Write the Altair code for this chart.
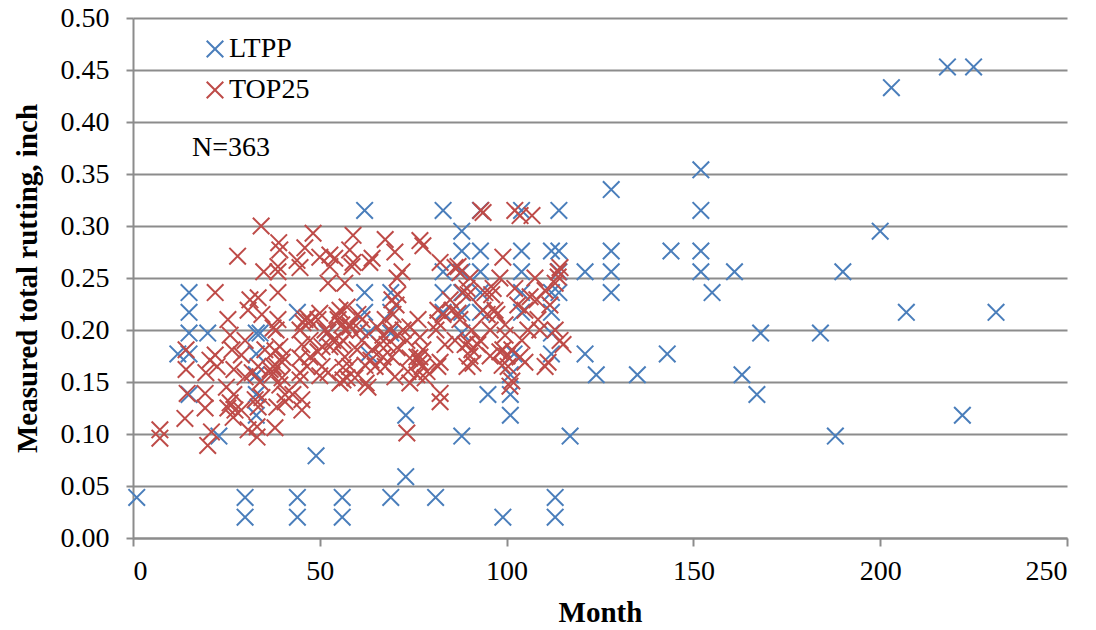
import altair as alt
import pandas as pd

# LTPP sections (month, measured total rutting in inch)
ltpp_month = [1, 12, 15, 15, 15, 15, 15, 20, 23, 30, 30, 33, 34, 33, 33, 33, 33,
              44, 44, 44, 49, 52, 56, 56, 62, 62, 62, 63, 63, 69, 69, 69, 69, 73, 73,
              81, 83, 83, 83, 83, 88, 88, 88, 88, 88, 88, 88, 93, 93, 93, 93, 93, 95,
              99, 101, 101, 101, 102, 104, 104, 104, 104, 104, 112, 112, 112, 112, 112,
              113, 113, 114, 114, 114, 114, 117, 121, 121, 124, 128, 128, 128, 128, 135,
              143, 144, 152, 152, 152, 152, 155, 161, 163, 167, 168, 184, 188, 190, 200,
              203, 207, 218, 222, 225, 231]
ltpp_rut = [0.039, 0.177, 0.177, 0.236, 0.217, 0.197, 0.138, 0.197, 0.098, 0.039, 0.020,
            0.197, 0.197, 0.177, 0.157, 0.138, 0.118,
            0.039, 0.020, 0.217, 0.079, 0.197, 0.039, 0.020, 0.315, 0.236, 0.217, 0.197,
            0.177, 0.236, 0.217, 0.197, 0.039, 0.118, 0.059,
            0.039, 0.315, 0.256, 0.236, 0.217, 0.295, 0.276, 0.256, 0.236, 0.217, 0.197,
            0.098, 0.315, 0.276, 0.256, 0.236, 0.217, 0.138,
            0.020, 0.157, 0.138, 0.118, 0.177, 0.315, 0.276, 0.256, 0.236, 0.217, 0.276,
            0.236, 0.217, 0.197, 0.177,
            0.039, 0.020, 0.315, 0.276, 0.256, 0.236, 0.098, 0.256, 0.177, 0.157, 0.335,
            0.276, 0.256, 0.236, 0.157,
            0.177, 0.276, 0.354, 0.315, 0.276, 0.256, 0.236, 0.256, 0.157, 0.138, 0.197,
            0.197, 0.098, 0.256, 0.295,
            0.433, 0.217, 0.453, 0.118, 0.453, 0.217]

# TOP25 sections (month, measured total rutting in inch)
top25_month = [7.2, 7.2, 13.9, 14.5, 14.2, 14.2, 20, 21, 19.3, 19.3, 19.5, 20.6, 22, 22,
               28, 25.4, 26, 26.5, 27, 25, 26, 26.8, 25.4, 27, 31.3, 30.8, 30, 29, 30, 29,
               30.8, 34.3, 35, 33.5, 34.5, 35.3, 33.5, 34, 34.5, 33.2, 33.2, 39.3, 39, 38.8,
               38.8, 38.3, 38, 39.9, 36.7, 39.9, 39.3, 40.7, 38, 43.9, 48.2, 46, 44.7, 46,
               44.7, 45.2, 47.4, 44.7, 44.7, 42.8, 47.4, 49.5, 51.4, 50, 49.5, 50.6, 50, 50,
               52.7, 52.7, 52.2, 54, 56.7, 55.4, 54.9, 56.7, 56.2, 55.4, 56.2, 57.3, 55.4, 58,
               58.9, 58.9, 58.6, 60.2, 61.3, 60.8, 61.3, 60, 62.1, 59.4, 62.4, 64, 63.4, 64,
               63.7, 64.8, 62.9, 67.5, 70.1, 70.7, 69.3, 70.4, 69.6, 68.8, 70.9, 68, 69.3,
               67.5, 70.1, 66.9, 67.5, 72, 72.3, 73.3, 74.1, 73.6, 74.1, 73.3, 76.8, 77.6,
               76.8, 77.4, 76.3, 77.6, 78.2, 82.2, 81.6, 83, 82.2, 81.6, 82.2, 82.2, 83.5,
               81.1, 86.2, 87.5, 85.4, 87.5, 86.2, 88.9, 90.2, 88.3, 90.2, 90.7, 89.4, 90.7,
               89.4, 84.9, 93.1, 93.7, 94.2, 93.7, 94.8, 92.9, 92.3, 95.6, 95.6, 96.9, 97.4,
               96.4, 98.2, 99, 99.6, 99, 100.1, 100.4, 101.4, 100.9, 101.4, 102.2, 103.6,
               102.2, 103, 104.1, 104.9, 104.9, 106.8, 107.6, 108.1, 108.4, 108.9, 110.3,
               111.6, 113, 114.3, 115.1, 113.8, 114.3, 113, 111.1, 110.3,
               27.3, 33.5, 32.7, 38.5, 31.9, 37.2, 22.5, 38.5, 58, 56.2, 76, 40.7, 45.2,
               45.2, 78.7, 91, 98.8, 87, 113.8, 89.7, 96, 106.3, 87, 81.6, 105.7, 99.6,
               89.7, 98.2, 103.6, 76.8, 76.8, 58, 52.7, 38.8, 52.2, 38.8, 70.9, 57.3, 46.6,
               54.6, 45.5, 47.4, 55.9, 58, 52.2, 37.5, 65.3, 74.1, 39.3, 50.6, 53.5, 66.1,
               70.7, 40.1, 44.7, 56.7, 66.9, 76, 37.5, 46.6]
top25_rut = [0.104, 0.096, 0.115, 0.139, 0.162, 0.181, 0.089, 0.102, 0.139, 0.125, 0.159,
             0.171, 0.176, 0.236, 0.271, 0.210, 0.195, 0.181, 0.162, 0.145, 0.130, 0.116,
             0.125, 0.138, 0.229, 0.219, 0.190, 0.176, 0.155, 0.123, 0.104, 0.300, 0.256,
             0.231, 0.215, 0.181, 0.165, 0.150, 0.135, 0.107, 0.097, 0.277, 0.284, 0.261,
             0.210, 0.200, 0.180, 0.169, 0.162, 0.154, 0.147, 0.131, 0.106, 0.267, 0.293,
             0.279, 0.260, 0.210, 0.200, 0.186, 0.174, 0.159, 0.152, 0.138, 0.190, 0.210,
             0.200, 0.216, 0.179, 0.165, 0.156, 0.270, 0.261, 0.184, 0.159, 0.269, 0.245,
             0.219, 0.210, 0.200, 0.190, 0.186, 0.164, 0.154, 0.149, 0.205, 0.291, 0.265,
             0.261, 0.215, 0.210, 0.200, 0.190, 0.181, 0.166, 0.154, 0.149, 0.269, 0.265,
             0.181, 0.171, 0.165, 0.145, 0.287, 0.275, 0.250, 0.229, 0.224, 0.215, 0.200,
             0.195, 0.186, 0.174, 0.165, 0.155, 0.195, 0.210, 0.256, 0.200, 0.190, 0.173,
             0.160, 0.149, 0.101, 0.286, 0.281, 0.169, 0.165, 0.210, 0.181, 0.154, 0.265,
             0.219, 0.215, 0.169, 0.165, 0.139, 0.131, 0.186, 0.200, 0.260, 0.255, 0.219,
             0.210, 0.190, 0.186, 0.175, 0.236, 0.250, 0.200, 0.165, 0.181, 0.240, 0.229,
             0.315, 0.313, 0.236, 0.219, 0.215, 0.190, 0.186, 0.200, 0.175, 0.219, 0.215,
             0.240, 0.250, 0.270, 0.205, 0.181, 0.175, 0.165, 0.151, 0.146, 0.181, 0.315,
             0.310, 0.240, 0.224, 0.190, 0.169, 0.219, 0.310, 0.250, 0.229, 0.210, 0.200,
             0.238, 0.224, 0.200, 0.190, 0.186, 0.256, 0.260, 0.245, 0.169, 0.165,
             0.123, 0.126, 0.133, 0.126, 0.159, 0.157, 0.165, 0.165, 0.165, 0.152, 0.157,
             0.138, 0.133, 0.123, 0.160, 0.168, 0.166, 0.261, 0.251, 0.234, 0.234, 0.232,
             0.216, 0.207, 0.200, 0.195, 0.188, 0.179, 0.174, 0.174, 0.193, 0.277, 0.272,
             0.256, 0.245, 0.236, 0.234, 0.222, 0.212, 0.214, 0.207, 0.208, 0.205, 0.203,
             0.198, 0.202, 0.203, 0.203, 0.184, 0.184, 0.190, 0.186, 0.183, 0.174, 0.173,
             0.174, 0.174, 0.174, 0.165, 0.165]

y_ticks = [0.00, 0.05, 0.10, 0.15, 0.20, 0.25, 0.30, 0.35, 0.40, 0.45, 0.50]
x_ticks = [0, 50, 100, 150, 200, 250]
series_names = ["LTPP", "TOP25"]
series_colors = ["#4A7EBB", "#BE4B48"]
annotation = "N=363"

df = pd.concat([
    pd.DataFrame({"Month": ltpp_month, "Rut": ltpp_rut, "Source": "LTPP"}),
    pd.DataFrame({"Month": top25_month, "Rut": top25_rut, "Source": "TOP25"}),
], ignore_index=True)

FONT = "Liberation Serif"
XSHAPE = "M-1,-1L1,1M-1,1L1,-1"

points = alt.Chart(df).mark_point(
    shape=XSHAPE, filled=False, strokeWidth=2, size=275, opacity=1
).encode(
    x=alt.X("Month:Q",
            scale=alt.Scale(domain=[0, 250], nice=False),
            axis=alt.Axis(values=x_ticks, title="Month", grid=False,
                          labelFontSize=28, titleFontSize=29, titleFontWeight="bold",
                          tickSize=8, labelPadding=11, titlePadding=13)),
    y=alt.Y("Rut:Q",
            scale=alt.Scale(domain=[0, 0.5], nice=False),
            axis=alt.Axis(values=y_ticks, format=".2f", title="Measured total rutting, inch",
                          labelFontSize=28, titleFontSize=29, titleFontWeight="bold",
                          tickSize=7, labelPadding=17, titlePadding=18,
                          grid=True)),
    color=alt.Color("Source:N",
                    scale=alt.Scale(domain=series_names, range=series_colors),
                    legend=alt.Legend(title=None, orient="none", legendX=68, legendY=17,
                                      symbolType=XSHAPE, symbolSize=275,
                                      symbolStrokeWidth=2, symbolFillColor="transparent",
                                      labelFontSize=28, labelFont=FONT,
                                      rowPadding=13, padding=0, labelOffset=0)),
)

note = alt.Chart(pd.DataFrame({"t": [annotation]})).mark_text(
    font=FONT, fontSize=28, color="black", align="center", baseline="middle"
).encode(x=alt.value(98), y=alt.value(130), text="t:N")

chart = alt.layer(points, note).properties(
    width=934, height=520,
    padding={"left": 133, "top": 18, "right": 29, "bottom": 92},
    autosize=alt.AutoSizeParams(type="none"),
    background="white",
).configure_view(stroke=None).configure_axis(
    labelFont=FONT, titleFont=FONT, labelColor="black", titleColor="black",
    domainColor="#8C8C8C", domainWidth=2, tickColor="#8C8C8C", tickWidth=2,
    gridColor="#8C8C8C", gridWidth=2, gridOpacity=1,
)

chart.save("out.html", embed_options={"renderer": "svg", "actions": False})
